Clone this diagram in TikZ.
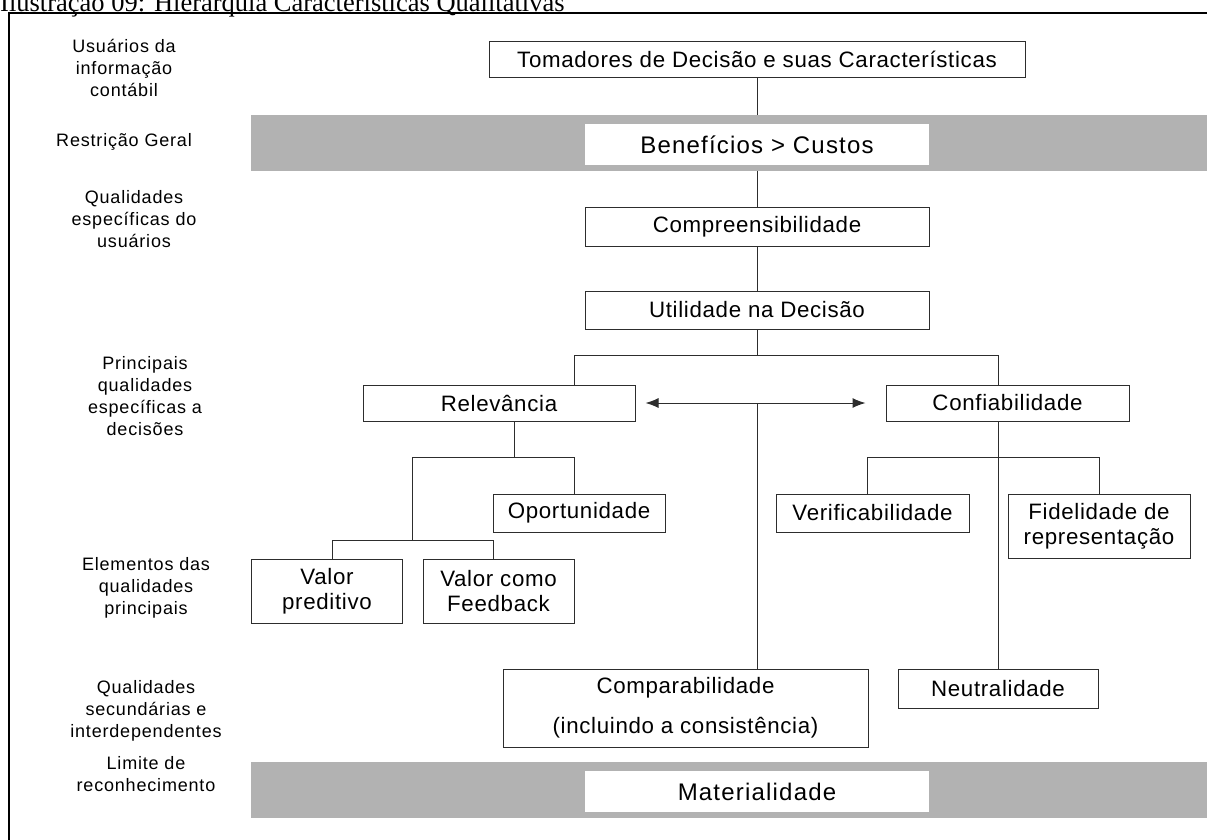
\documentclass[tikz,border=0pt]{standalone}
\usepackage{fontspec}
\setmainfont{Liberation Sans}
\newfontfamily\titlefam{Liberation Serif}
\newfontfamily\lblfam[LetterSpace=4.5]{Liberation Sans}
\newfontfamily\boxfam[LetterSpace=3]{Liberation Sans}
\newfontfamily\bigfam[LetterSpace=5]{Liberation Sans}
\usetikzlibrary{arrows.meta}
\definecolor{bandgray}{RGB}{178,178,178}
\definecolor{linegray}{RGB}{45,45,45}
\tikzset{
  box/.style={draw=linegray, line width=1pt, fill=white, inner sep=0pt, align=center,
    font=\boxfam\fontsize{22.3pt}{25pt}\selectfont},
  wbox/.style={fill=white, draw=none, inner sep=0pt, align=center,
    font=\bigfam\fontsize{24pt}{28pt}\selectfont},
  band/.style={fill=bandgray, draw=none, inner sep=0pt},
  lbl/.style={align=center, inner sep=0pt, font=\lblfam\fontsize{18pt}{22pt}\selectfont},
  conn/.style={draw=linegray, line width=1pt},
  tip/.style={{Latex[length=13pt,width=10pt]}-{Latex[length=13pt,width=10pt]}}
}
\begin{document}
\begin{tikzpicture}[x=1pt,y=-1pt]
\useasboundingbox (0,0) rectangle (1207,839);
% title and frame
\node[anchor=base west, inner sep=0pt, font=\titlefam\fontsize{26.5pt}{30pt}\selectfont] (title) at (0,11) {Ilustração 09: Hierarquia Características Qualitativas};
\draw[line width=2pt] (8.5,1000) -- (8.5,13) -- (1300,13);
% bands
\node[band, minimum width=1000pt, minimum height=56pt] (bandA) at (751,143) {};
\node[band, minimum width=1000pt, minimum height=56pt] (bandB) at (751,790) {};
% left labels
\node[lbl] (l1) at (124,68) {Usuários da\\informação\\contábil};
\node[lbl] (l2) at (124,142) {Restrição Geral};
\node[lbl] (l3) at (134,219) {Qualidades\\específicas do\\usuários};
\node[lbl] (l4) at (145,396) {Principais\\qualidades\\específicas a\\decisões};
\node[lbl] (l5) at (146,588) {Elementos das\\qualidades\\principais};
\node[lbl] (l6) at (146,711) {Qualidades\\secundárias e\\interdependentes};
\node[lbl] (l7) at (146,774) {Limite de\\reconhecimento};
% boxes
\node[box, minimum width=536pt, minimum height=36pt] (tom) at (757,59) {Tomadores de Decisão e suas Características};
\node[wbox, minimum width=344pt, minimum height=41pt] (ben) at (757,144.5) {Benefícios > Custos};
\node[box, minimum width=344pt, minimum height=38.5pt] (compr) at (757,227) {Compreensibilidade};
\node[box, minimum width=344pt, minimum height=38pt] (util) at (757,310) {Utilidade na Decisão};
\node[box, minimum width=272pt, minimum height=36pt] (rel) at (499,403) {Relevância};
\node[box, minimum width=243pt, minimum height=36pt] (conf) at (1007.5,403) {Confiabilidade};
\node[box, minimum width=172pt, minimum height=38pt] (oport) at (579,513) {Oportunidade};
\node[box, minimum width=151pt, minimum height=64pt] (vp) at (327,591) {Valor\\preditivo};
\node[box, minimum width=151pt, minimum height=64pt] (vf) at (498.5,591) {Valor como\\Feedback};
\node[box, minimum width=193pt, minimum height=38pt] (verif) at (872.5,513) {Verificabilidade};
\node[box, minimum width=182pt, minimum height=64pt] (fid) at (1099,526) {Fidelidade de\\representação};
\node[box, minimum width=365pt, minimum height=78pt] (comp) at (685.5,708) {Comparabilidade\\[15pt](incluindo a consistência)};
\node[box, minimum width=200pt, minimum height=39pt] (neut) at (998,688.5) {Neutralidade};
\node[wbox, minimum width=344pt, minimum height=41pt] (mat) at (757,791.5) {Materialidade};
% connectors
\draw[conn] (tom.south) -- (tom.south |- bandA.north);
\draw[conn] (bandA.south -| compr.north) -- (compr.north);
\draw[conn] (compr.south) -- (util.north);
\coordinate (j1) at (757,355);
\coordinate (jl) at (574,355);
\coordinate (jr) at (998,355);
\draw[conn] (util.south) -- (j1);
\draw[conn] (jl) -- (jr);
\draw[conn] (jl) -- (jl |- rel.north);
\draw[conn] (jr) -- (jr |- conf.north);
% relevancia subtree
\coordinate (r1) at (514,457);
\coordinate (r1l) at (412,457);
\coordinate (r1r) at (574,457);
\coordinate (r2) at (412,540);
\coordinate (r2l) at (332,540);
\coordinate (r2r) at (493,540);
\draw[conn] (r1 |- rel.south) -- (r1);
\draw[conn] (r1l) -- (r1r);
\draw[conn] (r1r) -- (r1r |- oport.north);
\draw[conn] (r1l) -- (r2);
\draw[conn] (r2l) -- (r2r);
\draw[conn] (r2l) -- (r2l |- vp.north);
\draw[conn] (r2r) -- (r2r |- vf.north);
% confiabilidade subtree
\coordinate (cv) at (998,457);
\coordinate (c1l) at (867,457);
\coordinate (c1r) at (1099,457);
\draw[conn] (cv |- conf.south) -- (neut.north);
\draw[conn] (c1l) -- (c1r);
\draw[conn] (c1l) -- (c1l |- verif.north);
\draw[conn] (c1r) -- (fid.north);
% arrow and central line
\draw[conn, tip] ([xshift=10pt]rel.east) -- ([xshift=-20pt]conf.west);
\coordinate (mid) at (757,403);
\draw[conn] (mid) -- (mid |- comp.north);
\end{tikzpicture}
\end{document}
